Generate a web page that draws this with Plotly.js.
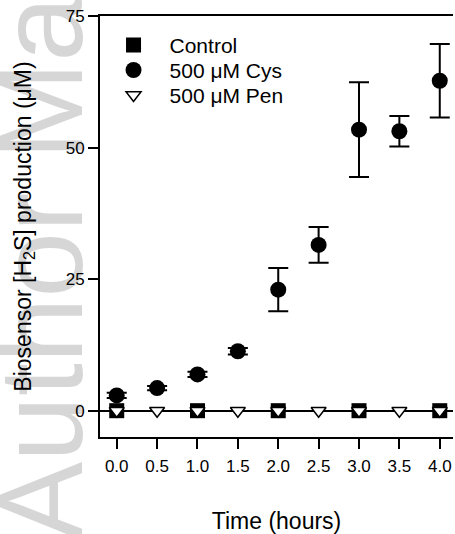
<!DOCTYPE html>
<html>
<head>
<meta charset="utf-8">
<script src="https://cdn.plot.ly/plotly-3.0.1.min.js"></script>
<style>html,body{margin:0;padding:0;background:#fff;}#chart{width:455px;height:534px;}</style>
</head>
<body>
<div id="chart"></div>
<script>
// Data
const timeControl = [0, 1, 2, 3, 4];
const control = [0, 0, 0, 0, 0];

const timeCys = [0, 0.5, 1.0, 1.5, 2.0, 2.5, 3.0, 3.5, 4.0];
const cys = [2.9, 4.3, 6.9, 11.3, 23.0, 31.5, 53.4, 53.1, 62.7];
const cysErr = [0.5, 0.4, 0.5, 0.6, 4.1, 3.4, 9.0, 2.9, 7.0];

const timePen = [0, 0.5, 1.0, 1.5, 2.0, 2.5, 3.0, 3.5, 4.0];
const pen = [0, 0, 0, 0, 0, 0, 0, 0, 0];

const xTicks = [0, 0.5, 1.0, 1.5, 2.0, 2.5, 3.0, 3.5, 4.0];
const xTickText = ['0.0', '0.5', '1.0', '1.5', '2.0', '2.5', '3.0', '3.5', '4.0'];
const yTicks = [0, 25, 50, 75];

const FONT = 'Arial, "Liberation Sans", Helvetica, sans-serif';

const traces = [
  {
    x: timeControl, y: control, name: 'Control', type: 'scatter', mode: 'markers',
    marker: {symbol: 'square', size: 15, color: '#000'}, cliponaxis: false
  },
  {
    x: timeCys, y: cys, name: '500 μM Cys', type: 'scatter', mode: 'markers',
    marker: {symbol: 'circle', size: 16, color: '#000'},
    error_y: {type: 'data', array: cysErr, visible: true, color: '#000', thickness: 2, width: 10},
    cliponaxis: false
  },
  {
    x: timePen, y: pen, name: '500 μM Pen', type: 'scatter', mode: 'markers',
    marker: {symbol: 'triangle-down', size: 13, color: '#fff', line: {color: '#000', width: 1.5}},
    cliponaxis: false
  }
];

const layout = {
  width: 455, height: 534,
  margin: {l: 100, r: 2, t: 16, b: 96.6},
  paper_bgcolor: '#fff', plot_bgcolor: '#fff',
  font: {family: FONT, color: '#000', size: 17},
  showlegend: true,
  legend: {
    x: -0.007, y: 0.979, xanchor: 'left', yanchor: 'top',
    bgcolor: 'rgba(0,0,0,0)', font: {family: FONT, size: 21, color: '#000'},
    itemwidth: 62, tracegroupgap: 0
  },
  xaxis: {
    range: [-0.207, 4.164],
    tickvals: xTicks, ticktext: xTickText,
    showline: true, linecolor: '#000', linewidth: 2, mirror: true,
    ticks: 'outside', ticklen: 10, tickwidth: 2, tickcolor: '#000',
    ticklabelstandoff: 3,
    showgrid: false, zeroline: false,
    tickfont: {family: FONT, size: 17, color: '#000'},
    title: {text: 'Time (hours)', font: {family: FONT, size: 23, color: '#000'}, standoff: 37}
  },
  yaxis: {
    range: [-5, 75],
    tickvals: yTicks,
    showline: true, linecolor: '#000', linewidth: 2,
    ticks: 'outside', ticklen: 10, tickwidth: 2, tickcolor: '#000',
    showgrid: false,
    zeroline: true, zerolinecolor: '#000', zerolinewidth: 2,
    tickfont: {family: FONT, size: 17, color: '#000'},
    title: {text: 'Biosensor [H<sub>2</sub>S] production (μM)', font: {family: FONT, size: 23, color: '#000'}, standoff: 28}
  },
  annotations: [
    {
      text: 'Author Ma', xref: 'paper', yref: 'paper',
      x: -0.166, y: -0.2506, xanchor: 'center', yanchor: 'bottom',
      textangle: -90, showarrow: false,
      font: {family: FONT, size: 118, color: 'rgba(0,0,0,0.16)'}
    }
  ]
};

Plotly.newPlot('chart', traces, layout, {displayModeBar: false, staticPlot: true}).then(function (gd) {
  // tighten legend row spacing to match the reference (25px per row)
  const items = gd.querySelectorAll('.legend .traces');
  if (!items.length) return;
  const m = /translate\(\s*([-\d.]+)[ ,]+([-\d.]+)\s*\)/.exec(items[0].getAttribute('transform') || '');
  if (!m) return;
  const x0 = parseFloat(m[1]), y0 = parseFloat(m[2]);
  items.forEach(function (el, i) {
    el.setAttribute('transform', 'translate(' + x0 + ',' + (y0 + i * 25) + ')');
  });
});
</script>
</body>
</html>
